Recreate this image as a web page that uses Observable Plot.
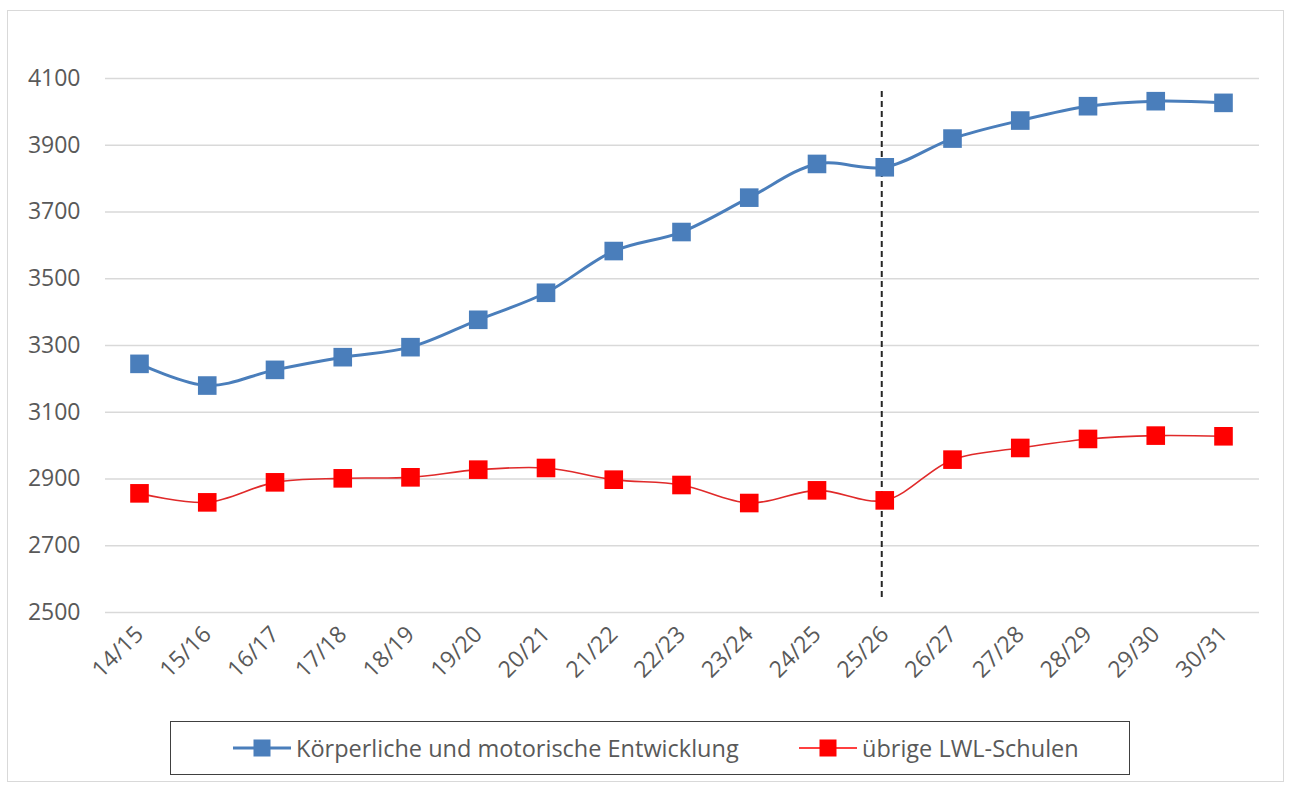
<!DOCTYPE html>
<html><head><meta charset="utf-8">
<script src="https://cdn.jsdelivr.net/npm/d3@7"></script>
<script src="https://cdn.jsdelivr.net/npm/@observablehq/plot@0.6"></script>
<style>
body{margin:0;background:#fff;}
#wrap{position:relative;width:1291px;height:785px;overflow:hidden;font-family:"Open Sans",sans-serif;background:#fff;}
#frame{position:absolute;left:7px;top:10px;width:1277px;height:772px;border:1px solid #d9d9d9;box-sizing:border-box;}
#chart{position:absolute;left:0;top:0;}
#legend{position:absolute;left:170px;top:721px;width:960px;height:54px;border:1.5px solid #404040;box-sizing:border-box;}
.item{position:absolute;top:0;height:51px;display:flex;align-items:center;color:#595959;font-size:23.5px;white-space:nowrap;}
.item svg{margin-right:5px;}
</style>
</head><body>
<div id="wrap"><div id="frame"></div><div id="chart"></div><div id="legend"></div></div>
<script>
const years = ["14/15","15/16","16/17","17/18","18/19","19/20","20/21","21/22","22/23","23/24","24/25","25/26","26/27","27/28","28/29","29/30","30/31"];
const koerperlich = [3245,3180,3227,3265,3295,3377,3458,3583,3640,3743,3844,3834,3920,3974,4017,4032,4027];
const uebrige = [2857,2830,2890,2902,2905,2928,2933,2898,2882,2828,2866,2836,2958,2993,3020,3030,3028];
const yTicks = [2500,2700,2900,3100,3300,3500,3700,3900,4100];
const seriesNames = ["Körperliche und motorische Entwicklung","übrige LWL-Schulen"];
const seriesColors = ["#4a7ebb","#ff0000"];
const markerYear = "25/26";
const markerRange = [2545,4065];

const rowsA = years.map((y,i)=>({year:y, value:koerperlich[i]}));
const rowsB = years.map((y,i)=>({year:y, value:uebrige[i]}));

const chart = Plot.plot({
  width:1291, height:700,
  marginLeft:105, marginRight:32, marginTop:78, marginBottom:88,
  style:{fontFamily:"'Open Sans', sans-serif", color:"#595959", background:"transparent", overflow:"visible"},
  x:{type:"point", domain:years, range:[139,1223], padding:0, round:false, label:null},
  y:{domain:[2500,4100], label:null},
  marks:[
    Plot.gridY(yTicks,{stroke:"#d9d9d9", strokeOpacity:1, strokeWidth:1.5}),
    Plot.axisY(yTicks,{tickSize:0, tickPadding:25, fontSize:23, fill:"#595959", label:null, tickFormat:d=>String(d)}),
    Plot.axisX({tickSize:0, tickRotate:-45, tickPadding:18, fontSize:23, fill:"#595959", label:null}),
    Plot.ruleX([markerYear],{y1:markerRange[0], y2:markerRange[1], stroke:"#262626", strokeWidth:2, strokeDasharray:"6,4", dx:-3}),
    Plot.line(rowsA,{x:"year", y:"value", stroke:seriesColors[0], strokeWidth:3, curve:"catmull-rom"}),
    Plot.dot(rowsA,{x:"year", y:"value", symbol:"square", r:10.5, fill:seriesColors[0], stroke:"none"}),
    Plot.line(rowsB,{x:"year", y:"value", stroke:"#e02a2a", strokeWidth:1.6, curve:"catmull-rom"}),
    Plot.dot(rowsB,{x:"year", y:"value", symbol:"square", r:10.5, fill:seriesColors[1], stroke:"none"})
  ]
});
document.getElementById("chart").appendChild(chart);

const legend = document.getElementById("legend");
const lefts = [62, 628];
const lw = [3, 1.6];
seriesNames.forEach((name,i)=>{
  const d = document.createElement("div");
  d.className = "item";
  d.style.left = lefts[i] + "px";
  d.innerHTML = `<svg width="58" height="20"><line x1="0" x2="58" y1="10" y2="10" stroke="${seriesColors[i]}" stroke-width="${lw[i]}"/><rect x="20.5" y="1.5" width="17" height="17" fill="${seriesColors[i]}"/></svg><span>${name}</span>`;
  legend.appendChild(d);
});
</script>
</body></html>
